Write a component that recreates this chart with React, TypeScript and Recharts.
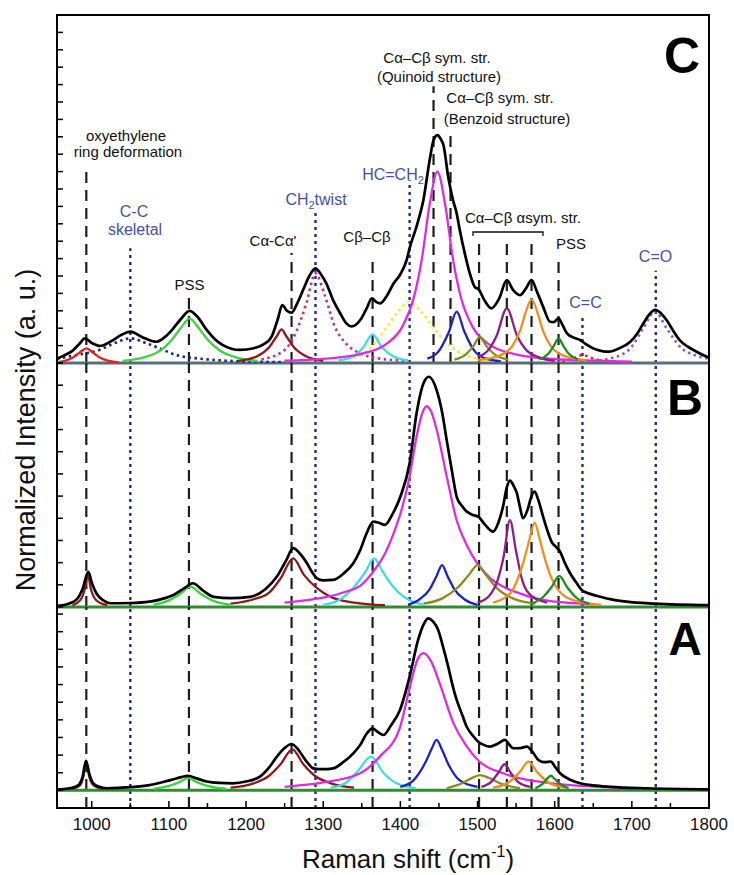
import React from 'react';
import { LineChart, Line, XAxis, YAxis, ReferenceLine } from 'recharts';

type Pt = [number, number];

// ---- axis ----
const xTicks = [1000, 1050, 1100, 1150, 1200, 1250, 1300, 1350, 1400, 1450, 1500, 1550, 1600, 1650, 1700, 1750, 1800];
const cTicks = [0, 1, 2, 3, 4, 5, 6, 7, 8, 9, 10, 11, 12, 13, 14, 15, 16, 17, 18, 19, 20];
const bTicks = [0, 1, 2, 3, 4, 5, 6, 7, 8, 9, 10, 11];
const aTicks = [-1, 0, 1, 2, 3, 4, 5, 6, 7, 8, 9, 10];

// ---- band markers (cm-1) ----
const dashedBands = [993, 1126, 1259, 1364, 1502, 1538, 1570, 1605];
const dottedBands = [1050, 1290, 1412, 1636, 1731];
const dashedOnlyC = [1443, 1465];
// height (panel C units) where each marker starts under its label
const cMarkTop: Record<number, number> = {
  993: 11.2, 1050: 6.6, 1126: 3.74, 1259: 6.32, 1290: 8.8, 1364: 6.2, 1412: 10.5,
  1443: 15.9, 1465: 13.3, 1502: 7.2, 1538: 7.2, 1570: 7.2, 1605: 6.1, 1636: 2.6, 1731: 5.3,
};

// ---- panel C ----
const cSum: Pt[] = [[955,0.25],[965,0.45],[975,0.7],[985,1.15],[991,1.42],[1000,1.15],[1011,0.98],[1025,1.25],[1040,1.65],[1050,1.8],[1065,1.5],[1084,1.22],[1095,1.5],[1105,1.95],[1115,2.5],[1127,3.0],[1138,2.6],[1149,1.9],[1160,1.35],[1170,1.03],[1192,0.75],[1210,0.85],[1222,1.05],[1233,1.5],[1241,2.5],[1247,3.33],[1253,3.0],[1259,2.89],[1266,3.4],[1274,4.2],[1282,5.0],[1290,5.44],[1297,5.1],[1304,4.58],[1313,3.6],[1322,2.86],[1330,2.28],[1337,2.1],[1348,2.47],[1357,3.2],[1363,3.72],[1369,3.5],[1374,3.43],[1383,3.9],[1391,4.55],[1400,5.1],[1408,5.9],[1412,6.6],[1422,8.0],[1430,9.4],[1438,11.67],[1443,12.8],[1448,13.1],[1452,12.9],[1456,12.5],[1462,10.7],[1468,9.4],[1473,8.6],[1477,7.64],[1484,6.2],[1490,5.15],[1496,4.4],[1502,4.2],[1509,3.6],[1518,3.14],[1528,3.7],[1538,4.77],[1546,4.2],[1555,3.9],[1563,4.3],[1570,4.77],[1577,4.1],[1585,3.24],[1594,2.37],[1599,2.35],[1605,2.57],[1610,2.2],[1616,1.7],[1625,1.45],[1633,1.32],[1640,1.1],[1650,0.84],[1660,0.7],[1670,0.65],[1684,0.85],[1698,1.22],[1708,1.75],[1715,2.28],[1722,2.75],[1730,3.05],[1738,2.85],[1745,2.47],[1753,1.9],[1762,1.32],[1772,0.95],[1784,0.65],[1800,0.3]];
const cRed993: Pt[] = [[955,0.05],[965,0.12],[975,0.3],[985,0.62],[993,0.84],[1001,0.62],[1011,0.3],[1022,0.12],[1035,0.04]];
const cNavy1050: Pt[] = [[955,0.25],[980,0.45],[1010,0.75],[1030,1.15],[1050,1.42],[1070,1.15],[1088,0.84],[1110,0.45],[1140,0.25],[1180,0.12],[1250,0.05]];
const cGreen1127: Pt[] = [[1040,0.12],[1070,0.35],[1090,0.75],[1105,1.4],[1117,2.1],[1127,2.57],[1137,2.1],[1150,1.35],[1165,0.75],[1185,0.35],[1215,0.12]];
const cDarkRed1247: Pt[] = [[1190,0.12],[1215,0.4],[1230,0.9],[1240,1.55],[1246,1.93],[1252,1.55],[1262,0.9],[1277,0.4],[1300,0.12]];
const cMagDot1290: Pt[] = [[1220,0.2],[1250,0.75],[1265,1.8],[1278,3.4],[1290,5.15],[1302,3.9],[1315,2.1],[1330,1.1],[1348,0.55],[1370,0.28],[1410,0.12]];
const cCyan1364: Pt[] = [[1320,0.15],[1340,0.4],[1352,0.9],[1364,1.65],[1376,0.9],[1390,0.4],[1410,0.15]];
const cYellow1412: Pt[] = [[1340,0.3],[1360,0.8],[1380,1.9],[1398,3.0],[1412,3.52],[1426,3.0],[1445,1.9],[1468,0.85],[1495,0.3],[1530,0.1]];
const cMagenta1448: Pt[] = [[1250,0.14],[1300,0.24],[1348,0.51],[1383,1.13],[1403,2.12],[1418,3.85],[1428,6.02],[1438,9.12],[1448,11],[1458,9.12],[1468,6.02],[1478,3.85],[1493,2.12],[1513,1.13],[1548,0.51],[1598,0.23],[1700,0.08]];
const cBlue1473: Pt[] = [[1435,0.25],[1450,0.7],[1463,1.8],[1473,2.95],[1483,1.8],[1496,0.7],[1511,0.25],[1530,0.1]];
const cOlive1502: Pt[] = [[1470,0.2],[1485,0.5],[1495,1.0],[1503,1.5],[1511,1.0],[1522,0.5],[1540,0.2]];
const cPurple1538: Pt[] = [[1500,0.35],[1515,0.8],[1525,1.6],[1538,3.14],[1551,1.6],[1562,0.8],[1578,0.35],[1600,0.12]];
const cOrange1570: Pt[] = [[1500,0.16],[1530,0.45],[1545,0.97],[1555,1.83],[1562,2.85],[1570,3.66],[1578,2.85],[1585,1.83],[1595,0.97],[1610,0.45],[1640,0.16]];
const cGreen1605: Pt[] = [[1580,0.2],[1592,0.55],[1599,1.0],[1605,1.42],[1611,1.0],[1618,0.55],[1630,0.2]];
const cRedDot1636: Pt[] = [[1610,0.08],[1625,0.28],[1636,0.46],[1648,0.28],[1665,0.08]];
const cPurpleDot1730: Pt[] = [[1650,0.12],[1675,0.3],[1698,0.84],[1715,2.0],[1730,2.95],[1745,2.0],[1762,0.95],[1785,0.4],[1800,0.25]];

// ---- panel B ----
const bSum: Pt[] = [[955,0.05],[970,0.15],[980,0.32],[988,0.8],[995.6,1.59],[1000,1.1],[1006,0.62],[1015,0.3],[1024,0.17],[1050,0.18],[1075,0.24],[1095,0.4],[1106,0.54],[1120,0.85],[1131,1.07],[1144,0.75],[1158,0.46],[1180,0.4],[1205,0.46],[1225,0.8],[1240,1.37],[1252,2.1],[1261,2.65],[1270,2.4],[1279,1.97],[1286,1.55],[1292,1.29],[1300,1.2],[1313,1.22],[1326,1.5],[1339,1.97],[1348,2.57],[1356,3.3],[1365,3.85],[1372,3.8],[1380,3.7],[1390,4.2],[1400,4.97],[1412,6.48],[1421,8.73],[1430,10.09],[1437,10.38],[1447,9.78],[1454,8.8],[1460,7.53],[1467,6.1],[1473,4.97],[1480,4.55],[1486,4.3],[1494,4.15],[1501,4.07],[1510,3.7],[1520,3.4],[1527,3.8],[1533,4.52],[1538,5.4],[1542,5.7],[1547,5.45],[1551,5.13],[1555,4.5],[1559,4.0],[1565,4.4],[1570,5.0],[1574,5.2],[1579,4.8],[1585,4.07],[1591,3.4],[1596,2.94],[1602,2.7],[1607,2.49],[1613,2.0],[1620,1.52],[1628,1.1],[1635,0.77],[1647,0.58],[1659,0.46],[1675,0.33],[1693,0.24],[1730,0.15],[1800,0.08]];
const bRed995: Pt[] = [[975,0.08],[985,0.3],[991,0.8],[995,1.44],[999,0.8],[1006,0.3],[1020,0.08]];
const bGreen1128: Pt[] = [[1080,0.1],[1100,0.3],[1115,0.6],[1128,0.92],[1141,0.6],[1156,0.3],[1180,0.1]];
const bDarkRed1261: Pt[] = [[1180,0.15],[1210,0.35],[1230,0.65],[1245,1.3],[1261,2.19],[1275,1.45],[1292,0.85],[1310,0.45],[1340,0.2],[1380,0.08]];
const bCyan1366: Pt[] = [[1300,0.1],[1320,0.3],[1340,0.9],[1355,1.6],[1366,2.19],[1377,1.6],[1391,0.9],[1412,0.3],[1430,0.1]];
const bMagenta1434: Pt[] = [[1250,0.2],[1300,0.42],[1330,0.7],[1348,0.95],[1365,1.6],[1380,2.4],[1391,3.3],[1400,4.2],[1412,5.87],[1421,7.68],[1428,8.7],[1434,9.05],[1440,8.8],[1447,8.0],[1460,5.9],[1473,3.9],[1486,2.8],[1499,2.0],[1515,1.35],[1533,0.92],[1560,0.55],[1585,0.32],[1650,0.12]];
const bBlue1454: Pt[] = [[1410,0.1],[1425,0.35],[1438,0.8],[1447,1.4],[1454,1.89],[1461,1.4],[1470,0.8],[1483,0.35],[1500,0.1]];
const bOlive1500: Pt[] = [[1430,0.15],[1455,0.4],[1475,0.9],[1490,1.5],[1500,1.89],[1512,1.4],[1525,0.85],[1545,0.4],[1575,0.15]];
const bPurple1542: Pt[] = [[1500,0.2],[1515,0.5],[1526,1.2],[1534,2.3],[1542,3.92],[1550,2.5],[1558,1.2],[1570,0.5],[1590,0.2]];
const bOrange1574: Pt[] = [[1520,0.2],[1542,0.6],[1559,1.97],[1567,3.0],[1574,3.8],[1581,3.0],[1589,1.97],[1605,0.75],[1625,0.3],[1660,0.1]];
const bGreen1606: Pt[] = [[1570,0.15],[1585,0.45],[1596,0.9],[1606,1.4],[1616,0.9],[1627,0.45],[1645,0.15]];

// ---- panel A ----
const aSum: Pt[] = [[955,0.05],[975,0.15],[983,0.3],[988,0.75],[992.6,1.67],[997,0.9],[1002,0.4],[1010,0.2],[1019,0.12],[1050,0.18],[1075,0.3],[1095,0.5],[1106,0.63],[1116,0.75],[1125,0.82],[1136,0.68],[1149,0.5],[1165,0.42],[1183,0.4],[1200,0.5],[1218,0.78],[1230,1.3],[1240,1.91],[1250,2.4],[1259,2.63],[1267,2.35],[1274,1.91],[1281,1.5],[1287,1.25],[1300,1.2],[1313,1.25],[1326,1.6],[1339,2.1],[1348,2.58],[1356,3.2],[1364,3.52],[1371,3.3],[1378,3.14],[1388,3.7],[1399.5,4.56],[1412,6.45],[1423,8.53],[1430,9.4],[1436,9.76],[1442,9.6],[1449,9.1],[1455,8.2],[1462,7.02],[1468,5.9],[1473,5.13],[1480,4.3],[1486,3.61],[1494,3.1],[1501,2.76],[1508,2.58],[1516,2.48],[1526,2.65],[1535.6,2.86],[1541,2.6],[1546,2.39],[1555,2.4],[1564,2.48],[1571,2.2],[1579,1.72],[1587,1.6],[1595,1.63],[1601,1.3],[1607,0.97],[1620,0.6],[1633,0.4],[1650,0.28],[1672,0.2],[1720,0.12],[1800,0.06]];
const aRed993: Pt[] = [[975,0.08],[985,0.3],[989,0.75],[993,1.54],[997,0.75],[1002,0.3],[1015,0.08]];
const aGreen1125: Pt[] = [[1080,0.08],[1100,0.25],[1113,0.45],[1125,0.69],[1137,0.45],[1150,0.25],[1175,0.08]];
const aDarkRed1260: Pt[] = [[1180,0.15],[1210,0.4],[1229,0.8],[1245,1.5],[1260,2.33],[1274,1.5],[1290,0.8],[1310,0.4],[1340,0.15]];
const aCyan1362: Pt[] = [[1310,0.15],[1330,0.45],[1345,1.1],[1362,1.91],[1378,1.0],[1395,0.4],[1420,0.12]];
const aMagenta1430: Pt[] = [[1250,0.2],[1300,0.45],[1348,0.97],[1373,1.9],[1399,3.5],[1412,5.8],[1422,7.4],[1430,7.78],[1440,7.3],[1451,6.07],[1469,3.8],[1486,2.5],[1502,1.65],[1533,0.97],[1607,0.35],[1700,0.12]];
const aBlue1447: Pt[] = [[1400,0.2],[1417,0.57],[1434,1.72],[1441,2.4],[1447,2.86],[1454,2.3],[1462,1.5],[1477,0.57],[1500,0.2]];
const aOlive1503: Pt[] = [[1460,0.12],[1480,0.4],[1495,0.75],[1503,0.87],[1515,0.7],[1530,0.38],[1555,0.12]];
const aPurple1535: Pt[] = [[1505,0.2],[1518,0.5],[1527,1.0],[1535,1.48],[1543,1.0],[1552,0.5],[1568,0.2]];
const aOrange1566: Pt[] = [[1520,0.15],[1540,0.45],[1555,1.05],[1566,1.63],[1577,1.05],[1592,0.45],[1615,0.15]];
const aGreen1595: Pt[] = [[1575,0.12],[1585,0.4],[1590,0.65],[1595,0.83],[1600,0.65],[1606,0.4],[1618,0.12]];

const FONT = '"Liberation Sans", Arial, Helvetica, sans-serif';
const X_DOMAIN: [number, number] = [955, 1800];
const LABEL_BLUE = '#4453a3';
const MARK_BLUE = '#1f2b8e';

const C = {
  red: '#e3211d', navy: '#1c2688', green: '#3fd23f', darkred: '#8c1a1a', magdot: '#b5338c',
  cyan: '#3ddde3', yellow: '#efe93c', magenta: '#de2cde', blue: '#1d22c6', olive: '#8b8a23',
  purple: '#8a1f88', orange: '#ef8f1f', dgreen: '#1f8c22', reddot: '#d32a2a', purpledot: '#8958d2',
};

type Comp = { data: Pt[]; color: string; dotted?: boolean };

const cComps: Comp[] = [
  { data: cNavy1050, color: C.navy, dotted: true },
  { data: cMagDot1290, color: C.magdot, dotted: true },
  { data: cYellow1412, color: C.yellow, dotted: true },
  { data: cRedDot1636, color: C.reddot, dotted: true },
  { data: cPurpleDot1730, color: C.purpledot, dotted: true },
  { data: cRed993, color: C.red },
  { data: cGreen1127, color: C.green },
  { data: cDarkRed1247, color: C.darkred },
  { data: cCyan1364, color: C.cyan },
  { data: cMagenta1448, color: C.magenta },
  { data: cBlue1473, color: C.blue },
  { data: cOlive1502, color: C.olive },
  { data: cPurple1538, color: C.purple },
  { data: cOrange1570, color: C.orange },
  { data: cGreen1605, color: C.dgreen },
];
const bComps: Comp[] = [
  { data: bRed995, color: C.darkred },
  { data: bGreen1128, color: C.green },
  { data: bDarkRed1261, color: C.darkred },
  { data: bCyan1366, color: C.cyan },
  { data: bMagenta1434, color: C.magenta },
  { data: bBlue1454, color: C.blue },
  { data: bOlive1500, color: C.olive },
  { data: bPurple1542, color: C.purple },
  { data: bOrange1574, color: C.orange },
  { data: bGreen1606, color: C.dgreen },
];
const aComps: Comp[] = [
  { data: aRed993, color: C.darkred },
  { data: aGreen1125, color: C.green },
  { data: aDarkRed1260, color: C.darkred },
  { data: aCyan1362, color: C.cyan },
  { data: aMagenta1430, color: C.magenta },
  { data: aBlue1447, color: C.blue },
  { data: aOlive1503, color: C.olive },
  { data: aPurple1535, color: C.purple },
  { data: aOrange1566, color: C.orange },
  { data: aGreen1595, color: C.dgreen },
];

const toRows = (pts: Pt[]) => pts.map(([x, y]) => ({ x, y }));

// the y axis box is 10px wide, so its right edge (the frame line) is at p.x
const LeftTick = (p: any) => (
  <line x1={57} x2={63} y1={p.y} y2={p.y} stroke="#000" strokeWidth={1.5} />
);
const TopTick = (p: any) => (
  <line x1={p.x} x2={p.x} y1={15} y2={15 + (p.payload.value % 100 === 0 ? 6 : 4)} stroke="#000" strokeWidth={1.3} />
);
const BottomTick = (p: any) => {
  const major = p.payload.value % 100 === 0;
  return (
    <g>
      <line x1={p.x} x2={p.x} y1={p.y} y2={p.y - (major ? 7 : 5)} stroke="#000" strokeWidth={1.5} />
      {major && (
        <text x={p.x} y={p.y + 22} textAnchor="middle" fontSize={17} fontFamily={FONT} fill="#111">
          {p.payload.value}
        </text>
      )}
    </g>
  );
};

const dashProps = { stroke: '#1e1e1e', strokeWidth: 2.2, strokeDasharray: '11 7' };
const dotProps = { stroke: MARK_BLUE, strokeWidth: 2.4, strokeDasharray: '3 4' };

interface PanelProps {
  top: number;
  height: number;
  mTop: number;
  mBottom: number;
  yDomain: [number, number];
  yTicks: number[];
  comps: Comp[];
  sum: Pt[];
  baseColor: string;
  axis: 'top' | 'bottom' | 'none';
  partialMarks?: boolean;
}

function Panel({ top, height, mTop, mBottom, yDomain, yTicks, comps, sum, baseColor, axis, partialMarks }: PanelProps) {
  return (
    <div style={{ position: 'absolute', left: 0, top }}>
      <LineChart width={734} height={height} margin={{ top: mTop, right: 25, bottom: mBottom, left: 47 }}>
        <XAxis
          dataKey="x"
          type="number"
          domain={X_DOMAIN}
          allowDataOverflow
          ticks={xTicks}
          interval={0}
          orientation={axis === 'top' ? 'top' : 'bottom'}
          hide={axis === 'none'}
          height={axis === 'bottom' ? 67 : 0}
          axisLine={false}
          tickLine={false}
          tickSize={0}
          tickMargin={0}
          tick={axis === 'top' ? <TopTick /> : <BottomTick />}
        />
        <YAxis
          type="number"
          domain={yDomain}
          allowDataOverflow
          ticks={yTicks}
          interval={0}
          width={10}
          axisLine={false}
          tickLine={false}
          tickSize={0}
          tickMargin={0}
          tick={<LeftTick />}
        />
        {dashedBands.map((b) =>
          partialMarks ? (
            <ReferenceLine key={'d' + b} segment={[{ x: b, y: 0 }, { x: b, y: cMarkTop[b] }]} {...dashProps} />
          ) : (
            <ReferenceLine key={'d' + b} x={b} {...dashProps} />
          )
        )}
        {partialMarks &&
          dashedOnlyC.map((b) => (
            <ReferenceLine key={'q' + b} segment={[{ x: b, y: 0 }, { x: b, y: cMarkTop[b] }]} {...dashProps} />
          ))}
        {dottedBands.map((b) =>
          partialMarks ? (
            <ReferenceLine key={'b' + b} segment={[{ x: b, y: 0 }, { x: b, y: cMarkTop[b] }]} {...dotProps} />
          ) : (
            <ReferenceLine key={'b' + b} x={b} {...dotProps} />
          )
        )}
        <ReferenceLine y={0} stroke={baseColor} strokeWidth={3} />
        {comps.map((c, i) => (
          <Line
            key={i}
            data={toRows(c.data)}
            dataKey="y"
            type="monotone"
            dot={false}
            stroke={c.color}
            strokeWidth={c.dotted ? 2.6 : 2.3}
            strokeDasharray={c.dotted ? '2.5 3.5' : undefined}
            isAnimationActive={false}
          />
        ))}
        <Line data={toRows(sum)} dataKey="y" type="monotone" dot={false} stroke="#000" strokeWidth={2.7} isAnimationActive={false} />
      </LineChart>
    </div>
  );
}

const txt = (x: number, y: number, s: string, color = '#111', size = 15) => (
  <text key={s + x} x={x} y={y} textAnchor="middle" fontSize={size} fill={color} fontFamily={FONT}>
    {s}
  </text>
);

export default function App() {
  return (
    <div style={{ position: 'absolute', left: 0, top: 0, width: 734, height: 875, background: '#fff' }}>
      <Panel top={0} height={375} mTop={15} mBottom={12} yDomain={[0, 20]} yTicks={cTicks} comps={cComps} sum={cSum} baseColor="#56707a" axis="top" partialMarks />
      <Panel top={353} height={264} mTop={10} mBottom={10} yDomain={[0, 11]} yTicks={bTicks} comps={bComps} sum={bSum} baseColor="#2e8d2e" axis="none" />
      <Panel top={597} height={278} mTop={10} mBottom={0} yDomain={[-1, 10.4]} yTicks={aTicks} comps={aComps} sum={aSum} baseColor="#2e8d2e" axis="bottom" />
      <svg width={734} height={875} style={{ position: 'absolute', left: 0, top: 0, pointerEvents: 'none' }}>
        <rect x={57} y={15} width={652} height={793} fill="none" stroke="#000" strokeWidth={2} />
        {txt(126, 141, 'oxyethylene')}
        {txt(128, 157, 'ring deformation')}
        {txt(134, 217, 'C-C', LABEL_BLUE, 16)}
        {txt(135, 235, 'skeletal', LABEL_BLUE, 16)}
        {txt(189.5, 290, 'PSS')}
        {txt(273, 246, "Cα-Cα'")}
        <text x={316} y={205} textAnchor="middle" fontSize={16} fill={LABEL_BLUE} fontFamily={FONT}>
          CH<tspan fontSize={11} dy={4}>2</tspan>
          <tspan dy={-4}>twist</tspan>
        </text>
        {txt(367, 242, 'Cβ–Cβ')}
        <text x={393} y={180} textAnchor="middle" fontSize={16} fill={LABEL_BLUE} fontFamily={FONT}>
          HC=CH<tspan fontSize={11} dy={4}>2</tspan>
        </text>
        {txt(437, 63, 'Cα–Cβ sym. str.')}
        {txt(439, 82, '(Quinoid structure)')}
        {txt(500, 103, 'Cα–Cβ sym. str.')}
        {txt(507, 124, '(Benzoid structure)')}
        {txt(523, 223, 'Cα–Cβ αsym. str.')}
        <path d="M473,236 L473,232 L543,232 L543,236" fill="none" stroke="#111" strokeWidth={1.3} />
        {txt(571, 249, 'PSS')}
        {txt(585.5, 308, 'C=C', LABEL_BLUE, 16)}
        {txt(655.5, 262, 'C=O', LABEL_BLUE, 16)}
        <text x={682} y={73} textAnchor="middle" fontSize={50} fontWeight="bold" fontFamily={FONT}>C</text>
        <text x={685} y={415} textAnchor="middle" fontSize={50} fontWeight="bold" fontFamily={FONT}>B</text>
        <text x={685} y={655} textAnchor="middle" fontSize={46} fontWeight="bold" fontFamily={FONT}>A</text>
        <text x={35} y={430} transform="rotate(-90 35 430)" textAnchor="middle" fontSize={27} fontFamily={FONT} fill="#111">
          Normalized Intensity (a. u.)
        </text>
        <text x={408} y={868} textAnchor="middle" fontSize={26} fontFamily={FONT} fill="#111">
          Raman shift (cm<tspan fontSize={16} dy={-11}>-1</tspan>
          <tspan dy={11}>)</tspan>
        </text>
      </svg>
    </div>
  );
}
